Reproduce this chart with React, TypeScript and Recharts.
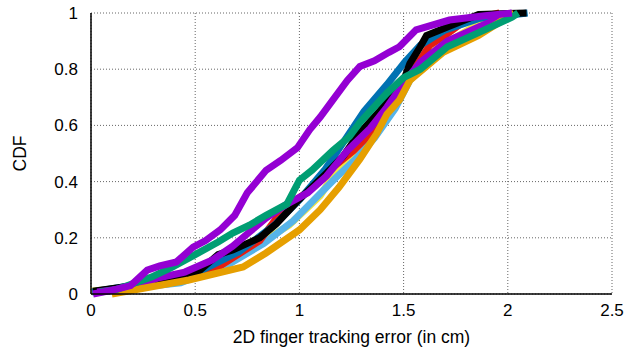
import { CartesianGrid, Line, LineChart, XAxis, YAxis } from "recharts";

// CDF of 2D finger tracking error, one curve per run (gnuplot default palette)
const purpleAX = [0.01, 0.105, 0.19, 0.27, 0.33, 0.41, 0.49, 0.55, 0.62, 0.69, 0.75, 0.84, 0.91, 0.99, 1.05, 1.1, 1.16, 1.23, 1.29, 1.36, 1.43, 1.48, 1.56, 1.72, 1.89, 2.02];
const purpleAY = [0.0, 0.014, 0.03, 0.085, 0.1, 0.114, 0.167, 0.19, 0.228, 0.28, 0.36, 0.44, 0.475, 0.52, 0.585, 0.63, 0.69, 0.76, 0.81, 0.83, 0.86, 0.88, 0.94, 0.975, 0.99, 1.0];

const greenX = [0.043, 0.115, 0.29, 0.39, 0.5, 0.61, 0.68, 0.76, 0.84, 0.94, 1.0, 1.06, 1.16, 1.24, 1.29, 1.42, 1.5, 1.58, 1.71, 1.86, 2.02, 2.05];
const greenY = [0.007, 0.014, 0.06, 0.096, 0.14, 0.185, 0.217, 0.245, 0.28, 0.32, 0.405, 0.44, 0.51, 0.56, 0.61, 0.715, 0.77, 0.8, 0.88, 0.93, 0.985, 1.0];

const orangeX = [0.1, 0.47, 0.73, 0.84, 1.0, 1.1, 1.19, 1.29, 1.37, 1.42, 1.48, 1.53, 1.69, 1.86, 2.03];
const orangeY = [0.0, 0.05, 0.096, 0.146, 0.228, 0.3, 0.38, 0.48, 0.57, 0.64, 0.69, 0.76, 0.86, 0.92, 1.0];

const yellowX = [0.0, 0.28, 0.45, 0.61, 0.76, 0.95, 1.1, 1.19, 1.34, 1.42, 1.48, 1.54, 1.61, 1.72, 1.88, 2.01];
const yellowY = [0.01, 0.03, 0.05, 0.085, 0.157, 0.245, 0.35, 0.455, 0.55, 0.62, 0.715, 0.77, 0.85, 0.9, 0.97, 1.0];

const lightBlueX = [0.02, 0.43, 0.67, 0.83, 0.97, 1.07, 1.17, 1.27, 1.36, 1.46, 1.53, 1.625, 1.77, 1.94, 2.06];
const lightBlueY = [0.007, 0.04, 0.11, 0.18, 0.26, 0.335, 0.41, 0.48, 0.555, 0.66, 0.76, 0.85, 0.91, 0.975, 1.0];

const redX = [0.04, 0.43, 0.62, 0.81, 0.92, 1.05, 1.16, 1.26, 1.34, 1.42, 1.5, 1.55, 1.625, 1.7, 1.8, 1.96];
const redY = [0.01, 0.05, 0.1, 0.19, 0.3, 0.37, 0.45, 0.51, 0.57, 0.645, 0.725, 0.8, 0.885, 0.92, 0.975, 1.0];

const darkBlueX = [0.005, 0.28, 0.52, 0.71, 0.88, 1.0, 1.12, 1.22, 1.31, 1.42, 1.505, 1.58, 1.7, 1.86, 2.095];
const darkBlueY = [0.007, 0.04, 0.08, 0.15, 0.245, 0.335, 0.44, 0.55, 0.65, 0.745, 0.825, 0.885, 0.94, 0.98, 1.0];

const blackX = [0.01, 0.21, 0.39, 0.5, 0.61, 0.68, 0.81, 0.89, 0.99, 1.06, 1.13, 1.21, 1.28, 1.39, 1.5, 1.53, 1.58, 1.61, 1.71, 1.86, 2.09];
const blackY = [0.01, 0.03, 0.05, 0.07, 0.14, 0.157, 0.2, 0.25, 0.33, 0.38, 0.43, 0.49, 0.565, 0.655, 0.76, 0.82, 0.88, 0.92, 0.95, 0.995, 1.0];

const purpleBX = [0.03, 0.21, 0.32, 0.45, 0.58, 0.68, 0.76, 0.84, 0.94, 1.04, 1.13, 1.23, 1.34, 1.42, 1.51, 1.58, 1.71, 1.86, 2.02];
const purpleBY = [0.007, 0.025, 0.057, 0.078, 0.12, 0.17, 0.22, 0.27, 0.32, 0.36, 0.42, 0.51, 0.59, 0.665, 0.76, 0.825, 0.9, 0.95, 1.0];

const xTicks = [0, 0.5, 1, 1.5, 2, 2.5];
const yTicks = [0, 0.2, 0.4, 0.6, 0.8, 1];

const zip = (xs: number[], ys: number[]) => xs.map((x, i) => ({ x, y: ys[i] }));

const series = [
  { name: "yellow", color: "#f0e442", data: zip(yellowX, yellowY) },
  { name: "lightblue", color: "#56b4e9", data: zip(lightBlueX, lightBlueY) },
  { name: "red", color: "#e51e10", data: zip(redX, redY) },
  { name: "darkblue", color: "#0072b2", data: zip(darkBlueX, darkBlueY) },
  { name: "black", color: "#000000", data: zip(blackX, blackY) },
  { name: "purpleB", color: "#9400d3", data: zip(purpleBX, purpleBY) },
  { name: "orange", color: "#e69f00", data: zip(orangeX, orangeY) },
  { name: "green", color: "#009e73", data: zip(greenX, greenY) },
  { name: "purpleA", color: "#9400d3", data: zip(purpleAX, purpleAY) },
];

const family = "'Liberation Sans', Arial, sans-serif";
const tickFont = { fill: "#000", fontSize: 17, fontFamily: family };
const labelFont = { fill: "#000", fontSize: 17.5, fontFamily: family };

export default function App() {
  return (
    <div>
      <style>{"body{margin:0;}"}</style>
      <LineChart width={628} height={349} margin={{ top: 13, right: 16, left: 0, bottom: 0 }}>
        <CartesianGrid stroke="#666" strokeDasharray="1 2" />
        <XAxis
          type="number"
          dataKey="x"
          domain={[0, 2.5]}
          ticks={xTicks}
          height={55}
          tickSize={0}
          tickMargin={10}
          tick={tickFont}
          axisLine={{ stroke: "#000", strokeWidth: 1.5 }}
          label={{ value: "2D finger tracking error (in cm)", position: "insideBottom", offset: 6, style: labelFont }}
        />
        <YAxis
          type="number"
          dataKey="y"
          domain={[0, 1]}
          ticks={yTicks}
          width={91}
          tickSize={0}
          tickMargin={13}
          tick={tickFont}
          axisLine={{ stroke: "#000", strokeWidth: 1.5 }}
          label={{ value: "CDF", angle: -90, position: "insideLeft", offset: 20, style: { ...labelFont, textAnchor: "middle" } }}
        />
        {series.map((s) => (
          <Line
            key={s.name}
            data={s.data}
            dataKey="y"
            type="linear"
            stroke={s.color}
            strokeWidth={7}
            dot={false}
            isAnimationActive={false}
          />
        ))}
      </LineChart>
    </div>
  );
}
